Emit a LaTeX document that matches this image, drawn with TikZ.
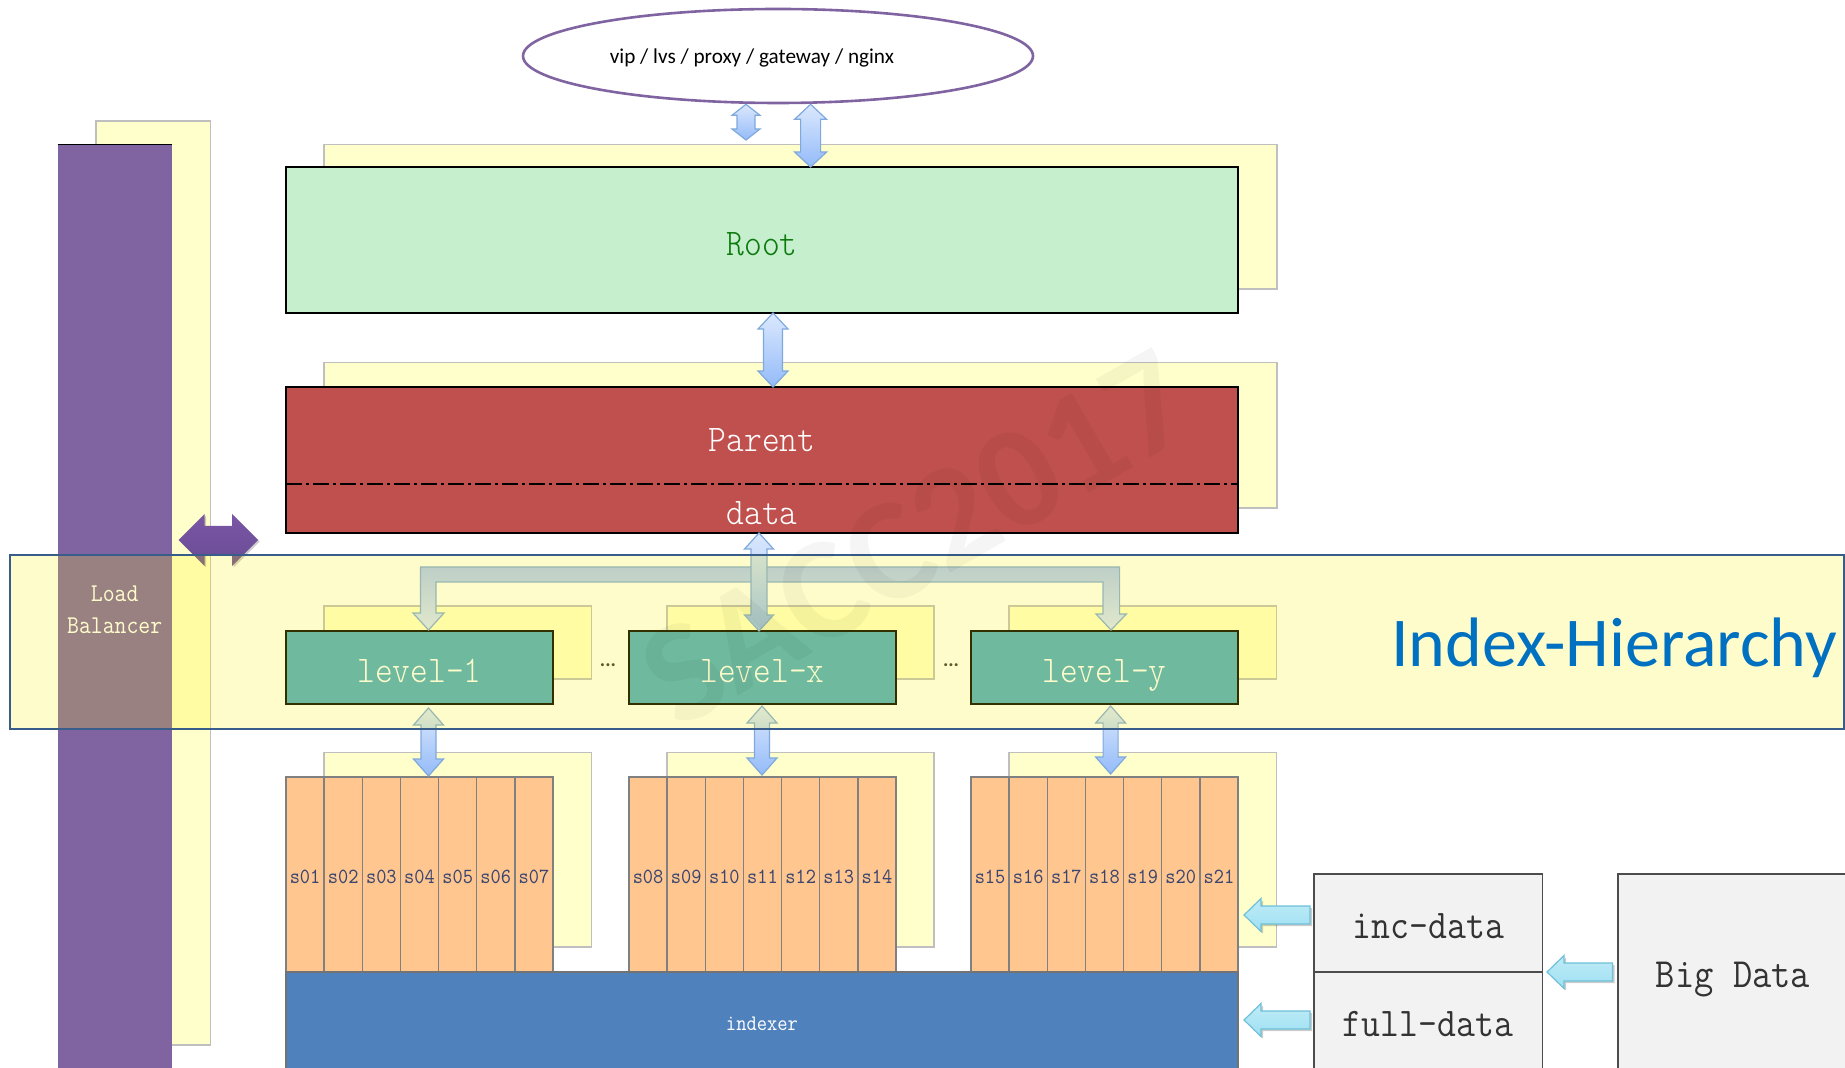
\documentclass[tikz,border=0pt]{standalone}
\usepackage{fontspec}
\usetikzlibrary{calc,shadows,shapes.geometric}
\newfontfamily\calibrifont{Carlito}
\setmonofont[FakeStretch=0.9]{Latin Modern Mono Light}
\newfontfamily\smallmono[FakeStretch=0.9]{Latin Modern Mono}
\definecolor{shadowyellow}{HTML}{FFFFCC}
\definecolor{shadowedge}{HTML}{BFBFBF}
\definecolor{lbpurple}{HTML}{8064A2}
\definecolor{rootfill}{HTML}{C6EFCE}
\definecolor{roottext}{HTML}{0E7A0E}
\definecolor{parentfill}{HTML}{C0504D}
\definecolor{levelfill}{HTML}{4BACC6}
\definecolor{shardfill}{HTML}{FFC78F}
\definecolor{shardtext}{HTML}{3A4570}
\definecolor{indexfill}{HTML}{4F81BD}
\definecolor{datafill}{HTML}{F2F2F2}
\definecolor{bandedge}{HTML}{385D8A}
\definecolor{titleblue}{HTML}{0070C0}
\definecolor{arrowedge}{HTML}{7FA9DC}
\definecolor{arrowlight}{HTML}{DBE8FD}
\definecolor{arrowdark}{HTML}{94BBF9}
\definecolor{brackettop}{HTML}{AEC7FA}
\definecolor{bracketbot}{HTML}{DAE6FF}
\definecolor{cyanedge}{HTML}{6FC0DA}
\definecolor{cyantop}{HTML}{BFEBF7}
\definecolor{cyanmid}{HTML}{E0F7FC}
\definecolor{cyanbot}{HTML}{9FE0F2}
\definecolor{arrowpurpletop}{HTML}{7A57A5}
\definecolor{arrowpurplebot}{HTML}{6A4A95}
\tikzset{
  x=0.5pt,y=-0.5pt,
  plainbox/.style={rectangle,inner sep=0pt,outer sep=0pt,anchor=north west},
  shadowbox/.style={plainbox,fill=shadowyellow,draw=shadowedge,line width=0.6pt},
  blackbox/.style={plainbox,draw=black,line width=0.8pt},
  rootbox/.style={blackbox,fill=rootfill,text=roottext},
  parentbox/.style={blackbox,fill=parentfill,text=white},
  levelbox/.style={blackbox,fill=levelfill,text=white},
  shardbox/.style={plainbox,fill=shardfill,draw=black!50,line width=0.7pt,text=shardtext},
  indexbox/.style={plainbox,fill=indexfill,draw=black!55,line width=0.7pt,text=white},
  databox/.style={plainbox,fill=datafill,draw=black!70,line width=0.8pt,text=black!80},
  bluearrow/.style={draw=arrowedge,line width=0.6pt,top color=arrowlight,bottom color=arrowdark},
  bracketarrow/.style={draw=arrowedge,line width=0.6pt,top color=brackettop,bottom color=bracketbot},
  cyanarrow/.style={draw=cyanedge,line width=0.6pt,top color=cyantop,middle color=cyanmid,bottom color=cyanbot,
    drop shadow={shadow xshift=1pt,shadow yshift=-1pt,opacity=.2,fill=black}},
  purplearrow/.style={top color=arrowpurpletop,bottom color=arrowpurplebot,
    drop shadow={shadow xshift=0.8pt,shadow yshift=-0.8pt,opacity=.2,fill=black}},
}
\newcommand\bx[6]{\node[#1,minimum width={(#5-#3)*0.5pt},minimum height={(#6-#4)*0.5pt}] (#2) at (#3,#4) {};}
% box with text: style, name, x1,y1,x2,y2, font, baseline y, text
\newcommand\tbx[9]{\node[#1,minimum width={(#5-#3)*0.5pt},minimum height={(#6-#4)*0.5pt}] (#2) at (#3,#4)
  {\pgfmathsetmacro\lift{((#4+#6)/2-#8)*0.5}\raisebox{\lift pt}[0pt][0pt]{#7#9}};}
\newcommand\bigf{\ttfamily\fontsize{18.8}{20}\selectfont}
\newcommand\vdbl[6]{% x, top, bottom, head half, shaft half, head length
  \coordinate (vt) at (#1,0 |- #2);
  \coordinate (vb) at (#1,0 |- #3);
  \path[bluearrow] (vt) -- ($(vt)+(#4,#6)$) -- ($(vt)+(#5,#6)$) -- ($(vb)+(#5,-#6)$) -- ($(vb)+(#4,-#6)$) -- (vb)
     -- ($(vb)+(-#4,-#6)$) -- ($(vb)+(-#5,-#6)$) -- ($(vt)+(-#5,#6)$) -- ($(vt)+(-#4,#6)$) -- cycle;
}
\newcommand\lft[2]{% from right coordinate #1 to tip coordinate #2
  \path[cyanarrow] (#2) -- ($(#2)+(17,-16.5)$) -- ($(#2)+(17,-9)$) -- ($(#1)+(0,-9)$) -- ($(#1)+(0,9)$) -- ($(#2)+(17,9)$) -- ($(#2)+(17,16.5)$) -- cycle;
}
\begin{document}
\begin{tikzpicture}
\useasboundingbox (0,0) rectangle (1845,1068);
\clip (0,0) rectangle (1845,1068);
% yellow shadow plates
\bx{shadowbox}{ylb}{96}{121}{210.5}{1045}
\bx{shadowbox}{yroot}{324}{144.5}{1277}{289}
\bx{shadowbox}{yparent}{324}{362.5}{1277}{508}
\bx{shadowbox}{yl1}{324}{606}{591.5}{679}
\bx{shadowbox}{ylx}{667}{606}{934}{679}
\bx{shadowbox}{yly}{1009}{606}{1276.5}{679}
\bx{shadowbox}{ys1}{324}{752.5}{591.5}{947}
\bx{shadowbox}{ysx}{667}{752.5}{934}{947}
\bx{shadowbox}{ysy}{1009}{752.5}{1276.5}{947}
% load balancer
\node[plainbox,fill=lbpurple,minimum width={114.5*0.5pt},minimum height={930*0.5pt}] (lb) at (57.5,144.5) {};
\draw[black,line width=0.9pt] (lb.north west) -- (lb.north east);
\node[text=white,align=center,font=\smallmono\fontsize{12.8}{16}\selectfont] (lbtext) at (114.7,610) {Load\\Balancer};
% ellipse
\node[ellipse,draw=lbpurple,line width=1.3pt,fill=white,minimum width={510*0.5pt},minimum height={94*0.5pt},inner sep=0pt] (vip) at (778,56) {};
\node[font=\calibrifont\fontsize{10.6}{12}\selectfont,text=black] (viptext) at (752,58) {vip / lvs / proxy / gateway / nginx};
% main boxes
\tbx{rootbox}{root}{286}{167}{1238}{313}{\bigf}{256}{Root}
\tbx{parentbox}{parent}{286}{387}{1238}{533}{\bigf}{452}{Parent}
\coordinate (dl) at (parent.west |- 0,484);
\coordinate (dr) at (parent.east |- 0,484);
\draw[black,line width=0.9pt,dash pattern=on 8pt off 2pt on 1.5pt off 2pt] (dl) -- (dr);
\node[text=white,font=\bigf,anchor=base] (datatext) at (762,524.5) {data};
\tbx{levelbox}{l1}{286}{631}{553}{704}{\bigf}{682}{level-1}
\tbx{levelbox}{lx}{629}{631}{896}{704}{\bigf}{682}{level-x}
\tbx{levelbox}{ly}{971}{631}{1238}{704}{\bigf}{682}{level-y}
\node[font=\calibrifont\bfseries\fontsize{10}{12}\selectfont,text=black!80] (d1) at (608,665) {...};
\node[font=\calibrifont\bfseries\fontsize{10}{12}\selectfont,text=black!80] (d2) at (951,665) {...};
% shards
\foreach \g/\x [count=\gi from 0] in {0/286,1/629,2/971}{
  \foreach \i in {1,...,7}{
    \pgfmathsetmacro\xa{\x+(\i-1)*267/7}
    \pgfmathsetmacro\xb{\x+\i*267/7}
    \pgfmathtruncatemacro\num{\gi*7+\i}
    \pgfmathsetmacro\lbl{\num<10 ? "s0\num" : "s\num"}
    \tbx{shardbox}{s\num}{\xa}{777}{\xb}{972}{\smallmono\fontsize{10.8}{12}\selectfont}{883}{\lbl}
  }
}
\bx{indexbox}{idx}{286}{972}{1238}{1120}
\node[text=white,font=\smallmono\fontsize{11.1}{12}\selectfont,anchor=base] (idxtext) at (762,1030) {indexer};
% data boxes
\tbx{databox}{inc}{1314}{874}{1542.5}{972}{\smallmono\fontsize{20.4}{22}\selectfont}{938}{inc-data}
\bx{databox}{full}{1314}{972}{1542.5}{1080}
\node[text=black!80,font=\smallmono\fontsize{20.4}{22}\selectfont,anchor=base] (fulltext) at (1428,1036) {full-data};
\bx{databox}{big}{1618}{874}{1848}{1080}
\node[text=black!80,font=\smallmono\fontsize{20.8}{22}\selectfont,anchor=base] (bigtext) at (1733,987) {Big Data};
% arrows
\coordinate (a1end) at (746,140);
\vdbl{746}{vip.south}{a1end}{14}{9}{11}
\vdbl{810.6}{vip.south}{root.north}{16}{10}{15}
\vdbl{773}{root.south}{parent.north}{15}{9.5}{16}
% bracket
\path[bracketarrow] (428.5,630) -- (413,613) -- (420.5,613) -- (420.5,567) -- (1119.6,567) -- (1119.6,614) -- (1126.5,614)
  -- (1111,630) -- (1096,614) -- (1103,614) -- (1103,582) -- (436,582) -- (436,613) -- (444,613) -- cycle;
\vdbl{759}{parent.south}{lx.north}{14.5}{8}{16}
\coordinate (l1b) at (428.5,708); \coordinate (s1t) at (428.5,776);
\vdbl{428.5}{l1b}{s1t}{15}{7.5}{17}
\coordinate (lxb) at (762,706); \coordinate (sxt) at (762,775);
\vdbl{762}{lxb}{sxt}{15}{7.5}{17}
\coordinate (lyb) at (1110.6,706); \coordinate (syt) at (1110.6,774);
\vdbl{1110.6}{lyb}{syt}{15}{7.5}{17}
% purple arrow
\coordinate (pl) at (178.5,540); \coordinate (pr) at (258,540);
\path[purplearrow] (pl) -- ($(pl)+(26,-26)$) -- ($(pl)+(26,-14)$) -- ($(pr)+(-26,-14)$) -- ($(pr)+(-26,-26)$) -- (pr)
  -- ($(pr)+(-26,26)$) -- ($(pr)+(-26,14)$) -- ($(pl)+(26,14)$) -- ($(pl)+(26,26)$) -- cycle;
% cyan arrows
\coordinate (c1r) at (1310,915); \coordinate (c1t) at (1244,915);
\coordinate (c2r) at (1310,1020); \coordinate (c2t) at (1244,1020);
\coordinate (c3r) at (1612.5,972); \coordinate (c3t) at (1547,972);
\lft{c1r}{c1t}
\lft{c2r}{c2t}
\lft{c3r}{c3t}
% translucent band
\node[plainbox,fill=yellow,fill opacity=0.2,draw=bandedge,draw opacity=1,line width=1.4pt,minimum width={1834*0.5pt},minimum height={174*0.5pt}] (band) at (10,555) {};
\node[font=\calibrifont\fontsize{35}{40}\selectfont,text=titleblue] (title) at (1614,648) {Index-Hierarchy};
% watermark
\node[font=\calibrifont\bfseries\fontsize{73}{80}\selectfont,text=black,opacity=0.04,rotate=30] (wm) at (917,538) {SACC2017};
\end{tikzpicture}
\end{document}
